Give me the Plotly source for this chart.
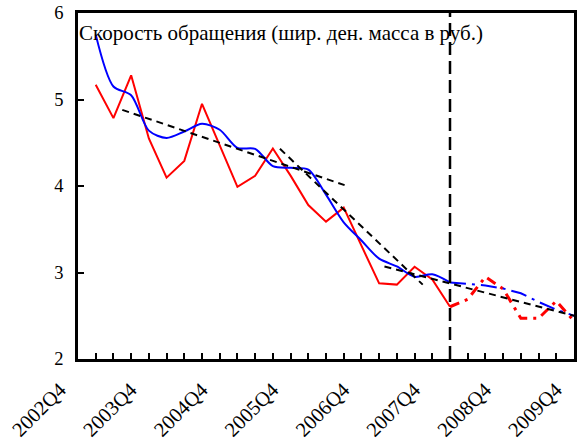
import plotly.graph_objects as go

quarters = ["2002Q4", "2003Q1", "2003Q2", "2003Q3", "2003Q4", "2004Q1", "2004Q2", "2004Q3",
            "2004Q4", "2005Q1", "2005Q2", "2005Q3", "2005Q4", "2006Q1", "2006Q2", "2006Q3",
            "2006Q4", "2007Q1", "2007Q2", "2007Q3", "2007Q4", "2008Q1", "2008Q2", "2008Q3",
            "2008Q4", "2009Q1", "2009Q2", "2009Q3", "2009Q4"]

# Velocity (actual), 2003Q1 .. 2008Q1
velocity_q = quarters[1:22]
velocity = [5.17, 4.785, 5.28, 4.55, 4.097, 4.29, 4.95, 4.48, 3.99, 4.117, 4.433,
            4.12, 3.78, 3.588, 3.75, 3.31, 2.875, 2.86, 3.067, 2.92, 2.604]
# Velocity (forecast), 2008Q1 .. 2009Q4
velocity_fc_q = quarters[21:29]
velocity_fc = [2.604, 2.69, 2.95, 2.81, 2.47, 2.47, 2.67, 2.44]

# Smoothed velocity (actual)
smooth_q = quarters[1:22]
smooth = [5.75, 5.15, 5.05, 4.64, 4.555, 4.63, 4.72, 4.65, 4.44, 4.43, 4.23,
          4.21, 4.19, 3.90, 3.58, 3.37, 3.16, 3.07, 2.95, 2.98, 2.885]
# Smoothed velocity (forecast)
smooth_fc_q = quarters[21:29]
smooth_fc = [2.885, 2.87, 2.85, 2.815, 2.76, 2.66, 2.57, 2.50]

# Linear trends: start/end position (in quarter units from 2002Q4) and values
trend_x0 = [2.5, 11.4, 17.3]
trend_x1 = [15.05, 19.46, 28.0]
trend_y0 = [4.88, 4.43, 3.07]
trend_y1 = [4.01, 2.86, 2.50]

forecast_start = "2008Q1"
label_quarters = quarters[::4]
title_text = "Скорость обращения (шир. ден. масса в руб.)"

pos = {q: i for i, q in enumerate(quarters)}
FONT = "Liberation Serif"

fig = go.Figure()

fig.add_trace(go.Scatter(x=[pos[q] for q in velocity_q], y=velocity, mode="lines",
                         line=dict(color="#FF0000", width=2), showlegend=False))
fig.add_trace(go.Scatter(x=[pos[q] for q in velocity_fc_q], y=velocity_fc, mode="lines",
                         line=dict(color="#FF0000", width=3, dash="10px,6px,3px,6px"),
                         showlegend=False))
fig.add_trace(go.Scatter(x=[pos[q] for q in smooth_q], y=smooth, mode="lines",
                         line=dict(color="#0000FF", width=2, shape="spline", smoothing=0.8),
                         showlegend=False))
fig.add_trace(go.Scatter(x=[pos[q] for q in smooth_fc_q], y=smooth_fc, mode="lines",
                         line=dict(color="#0000FF", width=2, dash="16px,6px,3px,6px"),
                         showlegend=False))
for x0, x1, y0, y1 in zip(trend_x0, trend_x1, trend_y0, trend_y1):
    fig.add_trace(go.Scatter(x=[x0, x1], y=[y0, y1], mode="lines",
                             line=dict(color="black", width=2, dash="7px,5px"),
                             showlegend=False))

fig.add_vline(x=pos[forecast_start], line=dict(color="black", width=2.5, dash="13px,6px"))

fig.add_annotation(text=title_text, xref="paper", yref="paper", x=0, y=0.942,
                   xanchor="left", yanchor="middle", showarrow=False, xshift=-1,
                   font=dict(family=FONT, size=21, color="black"))

fig.update_layout(
    width=577, height=445,
    margin=dict(l=78, r=3, t=13, b=86, autoexpand=False),
    paper_bgcolor="white", plot_bgcolor="white",
    font=dict(family=FONT, size=18, color="black"),
    hovermode=False,
)
fig.update_xaxes(range=[0, len(quarters) - 1], tickvals=[pos[q] for q in label_quarters],
                 ticktext=label_quarters, tickangle=-45, automargin=False,
                 ticklabeloverflow="allow",
                 showgrid=False, zeroline=False,
                 showline=True, linecolor="black", linewidth=2.5, mirror=True,
                 ticks="inside", ticklen=6, tickwidth=1.5, tickcolor="black",
                 minor=dict(dtick=1, ticks="inside", ticklen=6, tickwidth=1.5, tickcolor="black"),
                 ticklabelstandoff=8, ticklabelshift=-18,
                 tickfont=dict(family=FONT, size=20.5))
fig.update_yaxes(range=[2, 6], dtick=1, showgrid=False, zeroline=False, automargin=False,
                 showline=True, linecolor="black", linewidth=2.5, mirror=True,
                 ticks="inside", ticklen=6, tickwidth=1.5, tickcolor="black",
                 ticklabelstandoff=8, ticklabeloverflow="allow",
                 tickfont=dict(family=FONT, size=18.5))

# remove the page's default 8px body margin so the figure fills the window exactly
fig.write_html("out.html", config={"displayModeBar": False},
               post_script="document.body.style.margin='0';document.body.style.overflow='hidden';")
